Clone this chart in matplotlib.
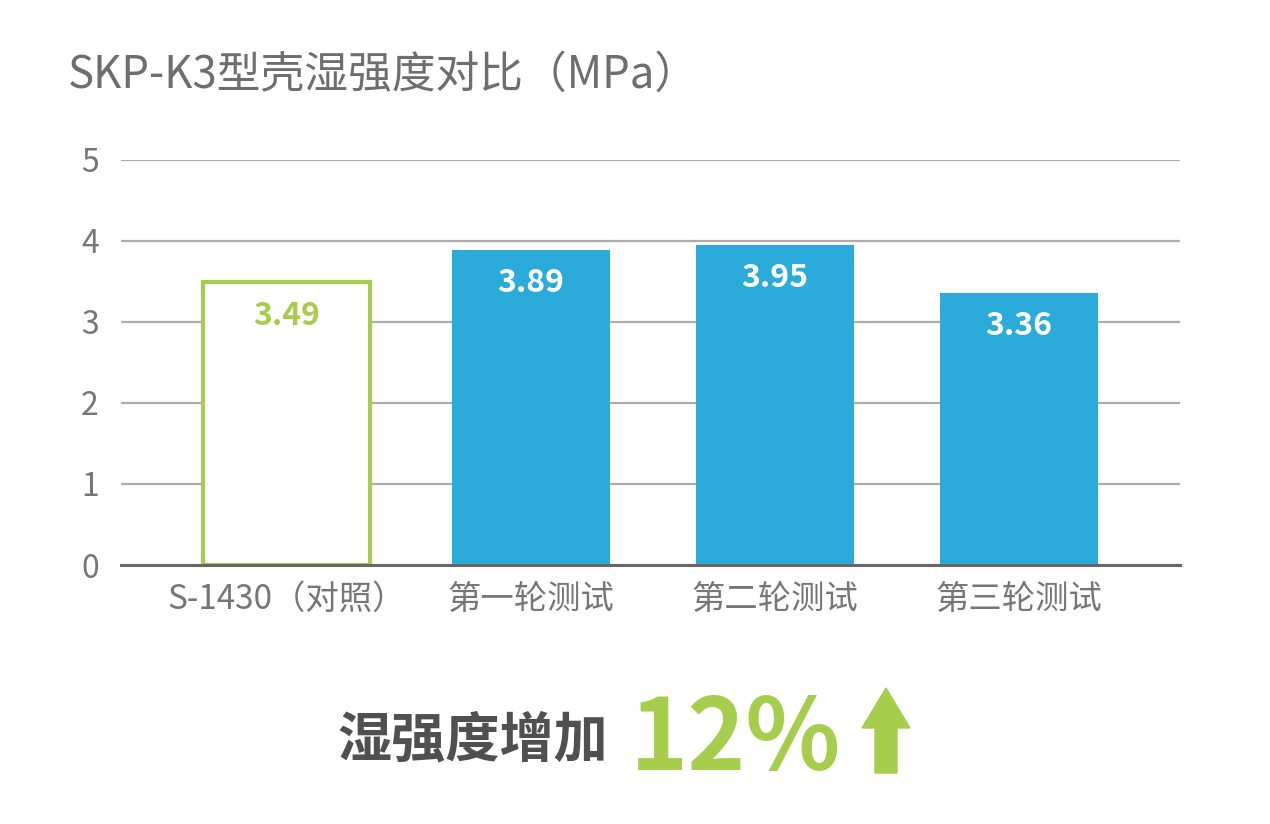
import matplotlib.pyplot as plt
from matplotlib.patches import FancyArrow

plt.rcParams['font.family'] = ['Noto Sans CJK SC', 'DejaVu Sans']

# data
categories = ['S-1430（对照）', '第一轮测试', '第二轮测试', '第三轮测试']
values = [3.49, 3.89, 3.95, 3.36]
title_text = 'SKP-K3型壳湿强度对比（MPa）'
footer_text = '湿强度增加'
footer_pct = '12%'

green = '#a6cd4b'
blue = '#2aabd9'
grid_gray = '#adadad'
tick_gray = '#767676'

fig = plt.figure(figsize=(12.7, 8.24), dpi=100)
ax = fig.add_axes([121 / 1270, 1 - 565 / 824, (1180 - 121) / 1270, (565 - 160) / 824])

x = list(range(len(categories)))
faces = ['white'] + [blue] * (len(categories) - 1)
edges = [green] + [blue] * (len(categories) - 1)
lws = [3.0] + [0] * (len(categories) - 1)
widths = [0.685] + [0.645] * (len(categories) - 1)
bars = ax.bar(x, values, width=widths, color=faces, edgecolor=edges, linewidth=lws, zorder=3)

label_colors = [green] + ['white'] * (len(categories) - 1)
for xi, v, c in zip(x, values, label_colors):
    ax.annotate(f'{v:.2f}', (xi, v), xytext=(0, -24), textcoords='offset points',
                ha='center', va='center', fontsize=23, fontweight='bold', color=c, zorder=4)

ax.set_ylim(0, 5)
ax.set_xlim(-0.68, 3.66)
ax.set_yticks(range(6))
ax.set_xticks(x)
ax.set_xticklabels(categories)
ax.tick_params(axis='both', length=0, labelsize=23, labelcolor=tick_gray)
ax.tick_params(axis='x', labelsize=24, pad=12)
ax.tick_params(axis='y', pad=16)
ax.yaxis.grid(True, color=grid_gray, linewidth=1.6, zorder=0)
ax.set_axisbelow(True)
for s in ['top', 'right', 'left']:
    ax.spines[s].set_visible(False)
ax.spines['bottom'].set_color('#666666')
ax.spines['bottom'].set_linewidth(2.2)
ax.spines['bottom'].set_zorder(5)

fig.text(68 / 1270, 1 - 75 / 824, title_text, fontsize=31.5, color='#6e6e6e',
         ha='left', va='center')

fig.text(608 / 1270, 1 - 741 / 824, footer_text, fontsize=39, fontweight='bold',
         color='#505050', ha='right', va='center')
fig.text(630 / 1270, 1 - 770 / 824, footer_pct, fontsize=71, fontweight='bold',
         color=green, ha='left', va='baseline')

arrow = FancyArrow(8.86, (824 - 773) / 100, 0, 0.85, width=0.22, head_width=0.48,
                   head_length=0.40, length_includes_head=True, color=green,
                   transform=fig.dpi_scale_trans)
fig.patches.append(arrow)

fig.savefig('out.png', dpi=100, facecolor='white')
